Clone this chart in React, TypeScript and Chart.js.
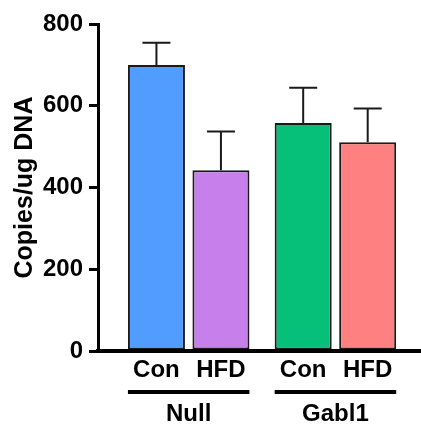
import React, { useEffect, useRef } from 'react';
import { Chart, registerables } from 'chart.js';

Chart.register(...registerables);

const groups = ['Null', 'Gabl1'];
const conditions = ['Con', 'HFD'];
const conMeans = [700, 558];
const conSem = [54, 86];
const hfdMeans = [442, 511];
const hfdSem = [95, 82];
const conColors = ['#509CFF', '#06BF78'];
const hfdColors = ['#C780EB', '#FF8080'];
const yMin = 0;
const yMax = 800;
const yStep = 200;
const yTitle = 'Copies/ug DNA';

const FONT = "'Liberation Sans', Arial, Helvetica, sans-serif";

const annotatePlugin = {
  id: 'annotate',
  afterDatasetsDraw(chart: any) {
    const { ctx } = chart;
    const y = chart.scales.y;
    const means = [conMeans, hfdMeans];
    const sems = [conSem, hfdSem];
    ctx.save();
    ctx.strokeStyle = '#1a1a1a';
    ctx.lineWidth = 2;
    chart.data.datasets.forEach((_ds: any, di: number) => {
      const meta = chart.getDatasetMeta(di);
      meta.data.forEach((bar: any, i: number) => {
        const top = y.getPixelForValue(means[di][i] + sems[di][i]);
        ctx.beginPath();
        ctx.moveTo(bar.x, bar.y);
        ctx.lineTo(bar.x, top);
        ctx.moveTo(bar.x - 14, top);
        ctx.lineTo(bar.x + 14, top);
        ctx.stroke();
      });
    });
    ctx.restore();
  },
  afterDraw(chart: any) {
    const { ctx, chartArea } = chart;
    const b = chartArea.bottom;
    ctx.save();
    ctx.fillStyle = '#000';
    ctx.font = `bold 24px ${FONT}`;
    ctx.textAlign = 'center';
    ctx.textBaseline = 'middle';
    const metas = chart.data.datasets.map((_d: any, di: number) => chart.getDatasetMeta(di));
    metas.forEach((meta: any, di: number) => {
      meta.data.forEach((bar: any) => {
        ctx.fillText(conditions[di], bar.x, b + 19);
      });
    });
    groups.forEach((g, gi) => {
      const first = metas[0].data[gi];
      const last = metas[metas.length - 1].data[gi];
      const left = first.x - first.width / 2;
      const right = last.x + last.width / 2;
      ctx.fillRect(left, b + 39, right - left, 4);
      ctx.fillText(g, (left + right) / 2, b + 63);
    });
    ctx.restore();
  },
};

export default function App() {
  const ref = useRef<HTMLCanvasElement>(null);
  useEffect(() => {
    if (!ref.current) return;
    Chart.defaults.font.family = FONT;
    const chart = new Chart(ref.current, {
      type: 'bar',
      data: {
        datasets: [
          {
            label: conditions[0],
            data: groups.map((_g, i) => ({ x: i, y: conMeans[i] })),
            backgroundColor: conColors,
            borderColor: '#1a1a1a',
            borderWidth: 2,
            borderSkipped: false,
          },
          {
            label: conditions[1],
            data: groups.map((_g, i) => ({ x: i, y: hfdMeans[i] })),
            backgroundColor: hfdColors,
            borderColor: '#1a1a1a',
            borderWidth: 2,
            borderSkipped: false,
          },
        ],
      },
      options: {
        responsive: false,
        animation: false,
        devicePixelRatio: 1,
        layout: { padding: { top: 24, left: 0, right: 0, bottom: 0 } },
        plugins: { legend: { display: false }, tooltip: { enabled: false } },
        datasets: { bar: { categoryPercentage: 0.879, barPercentage: 0.884 } },
        scales: {
          x: {
            type: 'linear',
            offset: false,
            grace: 0,
            min: -0.618,
            max: 1.583,
            ticks: { display: false, stepSize: 1, includeBounds: false },
            grid: { display: false, drawTicks: false, offset: false },
            border: { display: true, color: '#000', width: 4, z: 1 },
            afterFit: (s: any) => { s.height = 77; },
          },
          y: {
            min: yMin,
            max: yMax,
            ticks: {
              stepSize: yStep,
              color: '#000',
              font: { size: 24, weight: 'bold', family: FONT },
              padding: 6,
            },
            grid: { display: true, drawOnChartArea: false, drawTicks: true, tickLength: 9, lineWidth: 3, color: '#000' },
            border: { display: true, color: '#000', width: 3 },
            title: {
              display: true,
              text: yTitle,
              color: '#000',
              font: { size: 25, weight: 'bold', family: FONT },
              padding: { top: 10, bottom: 0 },
            },
            afterFit: (s: any) => { s.width = 98; },
          },
        },
      },
      plugins: [annotatePlugin],
    } as any);
    return () => chart.destroy();
  }, []);
  return (
    <div style={{ position: 'absolute', left: 0, top: 0, width: 421, height: 428, background: '#fff' }}>
      <canvas ref={ref} width={421} height={428} style={{ display: 'block' }} />
    </div>
  );
}
